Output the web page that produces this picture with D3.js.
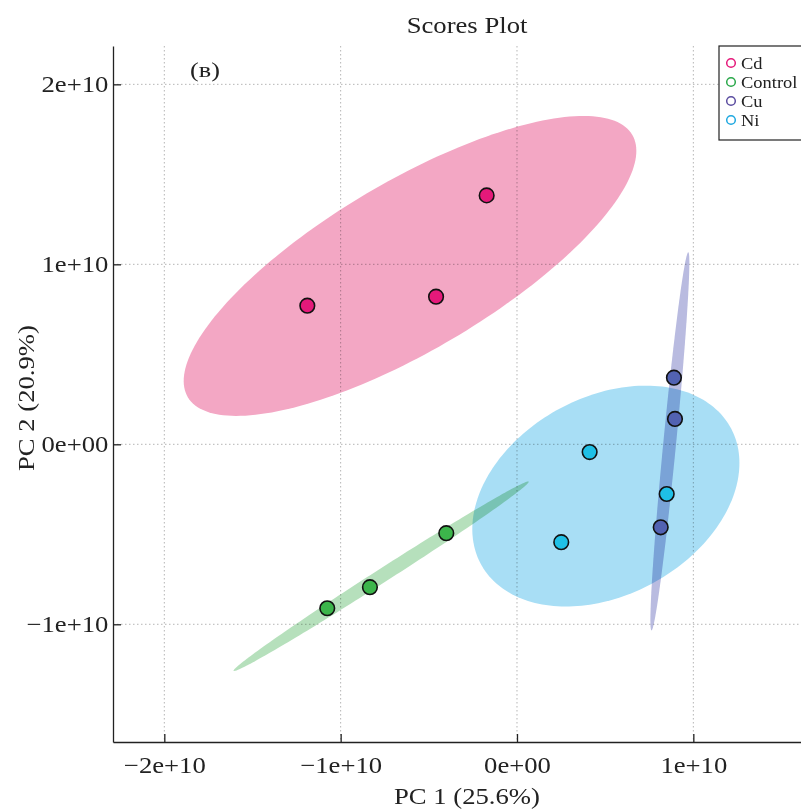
<!DOCTYPE html>
<html>
<head>
<meta charset="utf-8">
<script src="https://cdn.jsdelivr.net/npm/d3@7"></script>
<style>
  html, body { margin: 0; padding: 0; background: #fff; }
  svg { display: block; font-family: "Liberation Serif", "Times New Roman", serif; }
</style>
</head>
<body>
<div id="chart"></div>
<script>
// Data
const groups = ['Cd', 'Control', 'Cu', 'Ni'];
const groupColors = ['#E5197A', '#3CB54B', '#5262B2', '#1FC0E6'];
const ellipseColors = ['#F3A7C4', '#B6E0BC', '#B9BBE0', '#A8DEF5'];
const legendColors = ['#E5197A', '#2AA84A', '#5B4DA0', '#1FA8E0'];

const sampleGroup = ['Cd', 'Cd', 'Cd', 'Control', 'Control', 'Control', 'Cu', 'Cu', 'Cu', 'Ni', 'Ni', 'Ni'];
const pc1 = [-1.189e10, -0.459e10, -0.172e10, -1.076e10, -0.834e10, -0.401e10, 0.890e10, 0.896e10, 0.815e10, 0.412e10, 0.849e10, 0.251e10];
const pc2 = [0.770e10, 0.820e10, 1.383e10, -0.911e10, -0.794e10, -0.494e10, 0.370e10, 0.141e10, -0.461e10, -0.043e10, -0.276e10, -0.544e10];

const xTicks = [-2e10, -1e10, 0, 1e10];
const xTickLabels = ['\u22122e+10', '\u22121e+10', '0e+00', '1e+10'];
const yTicks = [-1e10, 0, 1e10, 2e10];
const yTickLabels = ['\u22121e+10', '0e+00', '1e+10', '2e+10'];

const width = 801, height = 810;
const plot = { left: 113, right: 821, top: 46, bottom: 742 };
const stretch = 'scale(1.16,1)'; // the original font is wider than Times

const x = d3.scaleLinear().domain([-2.291e10, 1.724e10]).range([plot.left, plot.right]);
const y = d3.scaleLinear().domain([-1.654e10, 2.213e10]).range([plot.bottom, plot.top]);
const color = d3.scaleOrdinal().domain(groups).range(groupColors);
const fillColor = d3.scaleOrdinal().domain(groups).range(ellipseColors);

const svg = d3.select('#chart').append('svg')
  .attr('width', width)
  .attr('height', height);

// Grid
const grid = svg.append('g')
  .attr('stroke', '#b5b5b5')
  .attr('stroke-width', 1)
  .attr('stroke-dasharray', '1.5,2.5');
grid.selectAll('line.gx').data(xTicks).join('line')
  .attr('class', 'gx')
  .attr('x1', d => x(d)).attr('x2', d => x(d))
  .attr('y1', plot.top).attr('y2', plot.bottom);
grid.selectAll('line.gy').data(yTicks).join('line')
  .attr('class', 'gy')
  .attr('y1', d => y(d)).attr('y2', d => y(d))
  .attr('x1', plot.left).attr('x2', plot.right);

// 95% confidence ellipses, computed from each group's covariance
const t = Math.sqrt(-2 * Math.log(0.05)); // sqrt(qchisq(0.95, 2))
function ellipse(g) {
  const idx = sampleGroup.map((s, i) => s === g ? i : -1).filter(i => i >= 0);
  const xs = idx.map(i => pc1[i]), ys = idx.map(i => pc2[i]);
  const cx = d3.mean(xs), cy = d3.mean(ys);
  const sx = d3.deviation(xs), sy = d3.deviation(ys);
  const cov = d3.sum(idx.map((_, k) => (xs[k] - cx) * (ys[k] - cy))) / (idx.length - 1);
  const dAng = Math.acos(cov / (sx * sy));
  return d3.range(0, 200).map(k => {
    const a = k / 200 * 2 * Math.PI;
    return [cx + t * sx * Math.cos(a + dAng / 2), cy + t * sy * Math.cos(a - dAng / 2)];
  });
}

const line = d3.line()
  .x(d => x(d[0]))
  .y(d => y(d[1]))
  .curve(d3.curveLinearClosed);

svg.append('g')
  .selectAll('path')
  .data(groups)
  .join('path')
  .attr('d', g => line(ellipse(g)))
  .attr('fill', g => fillColor(g))
  .style('mix-blend-mode', 'multiply')
  .attr('stroke', 'none');

// Points
svg.append('g')
  .selectAll('circle')
  .data(pc1.map((v, i) => ({ x: v, y: pc2[i], g: sampleGroup[i] })))
  .join('circle')
  .attr('cx', d => x(d.x))
  .attr('cy', d => y(d.y))
  .attr('r', 7.3)
  .attr('fill', d => color(d.g))
  .attr('stroke', '#111')
  .attr('stroke-width', 1.6);

// Axes
const xAxis = svg.append('g')
  .attr('transform', `translate(0,${plot.bottom})`)
  .call(d3.axisBottom(x).tickValues(xTicks).tickFormat((d, i) => xTickLabels[i])
    .tickSizeInner(-8).tickSizeOuter(0).tickPadding(15));
const yAxis = svg.append('g')
  .attr('transform', `translate(${plot.left},0)`)
  .call(d3.axisLeft(y).tickValues(yTicks).tickFormat((d, i) => yTickLabels[i])
    .tickSizeInner(-8).tickSizeOuter(0).tickPadding(4));

[xAxis, yAxis].forEach(a => {
  a.select('.domain').attr('stroke', '#222').attr('stroke-width', 1.3);
  a.selectAll('.tick line').attr('stroke', '#222').attr('stroke-width', 1.3);
  a.selectAll('.tick text')
    .attr('font-family', '"Liberation Serif", serif')
    .attr('font-size', 23)
    .attr('fill', '#222')
    .attr('transform', stretch);
});

// Titles
svg.append('text')
  .attr('transform', `translate(${(plot.left + plot.right) / 2},33) ${stretch}`)
  .attr('text-anchor', 'middle')
  .attr('font-size', 23)
  .attr('fill', '#222')
  .text('Scores Plot');

svg.append('text')
  .attr('transform', `translate(${(plot.left + plot.right) / 2},804) ${stretch}`)
  .attr('text-anchor', 'middle')
  .attr('font-size', 23)
  .attr('fill', '#222')
  .text('PC 1 (25.6%)');

svg.append('text')
  .attr('transform', `translate(34,398) rotate(-90) ${stretch}`)
  .attr('text-anchor', 'middle')
  .attr('font-size', 23)
  .attr('fill', '#222')
  .text('PC 2 (20.9%)');

svg.append('text')
  .attr('transform', 'translate(190,77) scale(1.25,1)')
  .attr('font-size', 21)
  .attr('fill', '#222')
  .text('(в)');

// Legend
const legend = svg.append('g').attr('transform', 'translate(719,46)');
legend.append('rect')
  .attr('width', 110).attr('height', 94)
  .attr('fill', '#fff').attr('stroke', '#222').attr('stroke-width', 1.2);
const item = legend.selectAll('g.item').data(groups).join('g')
  .attr('class', 'item')
  .attr('transform', (d, i) => `translate(0,${17 + i * 19})`);
item.append('circle')
  .attr('cx', 12).attr('r', 4.3)
  .attr('fill', 'none')
  .attr('stroke', (d, i) => legendColors[i])
  .attr('stroke-width', 1.5);
item.append('text')
  .attr('transform', 'translate(22,0) scale(1.12,1)')
  .attr('dy', '0.35em')
  .attr('font-size', 16.5)
  .attr('fill', '#222')
  .text(d => d);
</script>
</body>
</html>
